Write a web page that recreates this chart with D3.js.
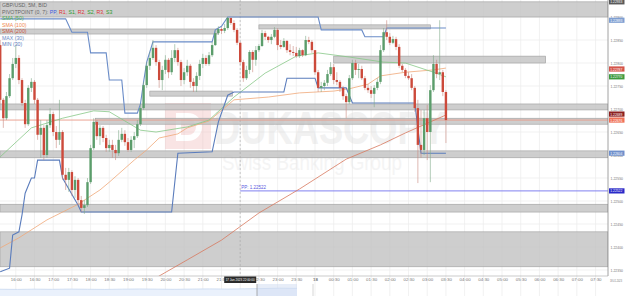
<!DOCTYPE html>
<html lang="en">
<head>
<meta charset="UTF-8">
<title>GBP/USD 5M</title>
<script src="https://cdn.jsdelivr.net/npm/d3@7"></script>
<style>
  body { margin: 0; background: #fff; }
  svg { display: block; font-family: 'Liberation Sans', Arial, sans-serif; }
</style>
</head>
<body>
<div class="chart"></div>
<script>
    // 5 minute bars, first bar 17 Jan 2023 15:35 (GMT)
    const open = [
        1.22839, 1.22720, 1.22680, 1.22728, 1.22767, 1.22798, 1.22811, 1.22763, 1.22713, 1.22667,
        1.22746, 1.22759, 1.22720, 1.22644, 1.22659, 1.22600, 1.22665, 1.22689, 1.22650, 1.22633,
        1.22650, 1.22557, 1.22546, 1.22563, 1.22524, 1.22546, 1.22502, 1.22485, 1.22491, 1.22541,
        1.22615, 1.22672, 1.22641, 1.22659, 1.22637, 1.22615, 1.22622, 1.22611, 1.22604, 1.22633,
        1.22646, 1.22628, 1.22611, 1.22633, 1.22641, 1.22667, 1.22702, 1.22752, 1.22794, 1.22811,
        1.22833, 1.22802, 1.22763, 1.22785, 1.22807, 1.22780, 1.22811, 1.22828, 1.22802, 1.22763,
        1.22780, 1.22794, 1.22759, 1.22750, 1.22772, 1.22798, 1.22811, 1.22798, 1.22817, 1.22839,
        1.22865, 1.22874, 1.22870, 1.22876, 1.22898, 1.22887, 1.22872, 1.22844, 1.22802, 1.22767,
        1.22785, 1.22824, 1.22807, 1.22828, 1.22837, 1.22865, 1.22857, 1.22850, 1.22857, 1.22872,
        1.22839, 1.22835, 1.22848, 1.22828, 1.22824, 1.22822, 1.22815, 1.22828, 1.22817, 1.22850,
        1.22846, 1.22828, 1.22780, 1.22746, 1.22750, 1.22757, 1.22776, 1.22791, 1.22763, 1.22759,
        1.22746, 1.22728, 1.22715, 1.22767, 1.22800, 1.22785, 1.22787, 1.22767, 1.22746, 1.22741,
        1.22733, 1.22746, 1.22759, 1.22828, 1.22867, 1.22857, 1.22844, 1.22852, 1.22835, 1.22794,
        1.22785, 1.22772, 1.22767, 1.22746, 1.22702, 1.22622, 1.22611, 1.22680, 1.22650, 1.22741,
        1.22798, 1.22776, 1.22780, 1.22737
    ]
    const high = [
        1.22850, 1.22724, 1.22737, 1.22776, 1.22811, 1.22839, 1.22817, 1.22767, 1.22720, 1.22752,
        1.22767, 1.22763, 1.22724, 1.22676, 1.22665, 1.22676, 1.22702, 1.22694, 1.22663, 1.22720,
        1.22654, 1.22572, 1.22572, 1.22567, 1.22554, 1.22550, 1.22511, 1.22502, 1.22550, 1.22622,
        1.22680, 1.22676, 1.22665, 1.22663, 1.22644, 1.22633, 1.22633, 1.22622, 1.22654, 1.22659,
        1.22654, 1.22637, 1.22641, 1.22650, 1.22676, 1.22711, 1.22759, 1.22802, 1.22824, 1.22850,
        1.22839, 1.22807, 1.22794, 1.22817, 1.22811, 1.22828, 1.22841, 1.22833, 1.22807, 1.22789,
        1.22807, 1.22798, 1.22767, 1.22780, 1.22807, 1.22820, 1.22817, 1.22824, 1.22846, 1.22872,
        1.22880, 1.22878, 1.22885, 1.22900, 1.22898, 1.22893, 1.22876, 1.22846, 1.22807, 1.22794,
        1.22828, 1.22828, 1.22837, 1.22841, 1.22872, 1.22870, 1.22859, 1.22863, 1.22878, 1.22876,
        1.22850, 1.22854, 1.22850, 1.22841, 1.22837, 1.22835, 1.22833, 1.22830, 1.22859, 1.22857,
        1.22850, 1.22828, 1.22785, 1.22759, 1.22763, 1.22785, 1.22802, 1.22798, 1.22780, 1.22763,
        1.22750, 1.22733, 1.22774, 1.22807, 1.22807, 1.22798, 1.22794, 1.22772, 1.22754, 1.22750,
        1.22752, 1.22767, 1.22839, 1.22876, 1.22893, 1.22865, 1.22859, 1.22857, 1.22841, 1.22798,
        1.22789, 1.22780, 1.22776, 1.22750, 1.22720, 1.22698, 1.22698, 1.22709, 1.22752, 1.22817,
        1.22807, 1.22893, 1.22785, 1.22741
    ]
    const low = [
        1.22711, 1.22659, 1.22676, 1.22724, 1.22763, 1.22789, 1.22754, 1.22707, 1.22659, 1.22663,
        1.22737, 1.22711, 1.22633, 1.22594, 1.22589, 1.22594, 1.22659, 1.22641, 1.22615, 1.22622,
        1.22546, 1.22524, 1.22520, 1.22511, 1.22507, 1.22491, 1.22476, 1.22472, 1.22487, 1.22537,
        1.22611, 1.22633, 1.22622, 1.22628, 1.22607, 1.22607, 1.22594, 1.22589, 1.22598, 1.22628,
        1.22620, 1.22607, 1.22607, 1.22615, 1.22637, 1.22663, 1.22698, 1.22746, 1.22785, 1.22807,
        1.22794, 1.22746, 1.22741, 1.22776, 1.22767, 1.22774, 1.22802, 1.22794, 1.22750, 1.22754,
        1.22772, 1.22746, 1.22737, 1.22737, 1.22763, 1.22789, 1.22794, 1.22794, 1.22813, 1.22837,
        1.22861, 1.22863, 1.22865, 1.22872, 1.22883, 1.22867, 1.22839, 1.22796, 1.22759, 1.22763,
        1.22776, 1.22780, 1.22794, 1.22824, 1.22835, 1.22850, 1.22844, 1.22841, 1.22854, 1.22828,
        1.22830, 1.22833, 1.22822, 1.22817, 1.22815, 1.22811, 1.22811, 1.22813, 1.22815, 1.22841,
        1.22822, 1.22774, 1.22737, 1.22737, 1.22741, 1.22750, 1.22772, 1.22754, 1.22752, 1.22737,
        1.22720, 1.22680, 1.22711, 1.22763, 1.22774, 1.22767, 1.22763, 1.22741, 1.22735, 1.22724,
        1.22704, 1.22741, 1.22754, 1.22824, 1.22850, 1.22839, 1.22841, 1.22828, 1.22789, 1.22780,
        1.22767, 1.22763, 1.22741, 1.22694, 1.22539, 1.22594, 1.22600, 1.22589, 1.22541, 1.22737,
        1.22767, 1.22763, 1.22728, 1.22626
    ]
    const close = [
        1.22720, 1.22680, 1.22728, 1.22767, 1.22798, 1.22811, 1.22763, 1.22713, 1.22667, 1.22746,
        1.22759, 1.22720, 1.22644, 1.22659, 1.22600, 1.22665, 1.22689, 1.22650, 1.22633, 1.22650,
        1.22557, 1.22546, 1.22563, 1.22524, 1.22546, 1.22502, 1.22485, 1.22491, 1.22541, 1.22615,
        1.22672, 1.22641, 1.22659, 1.22637, 1.22615, 1.22622, 1.22611, 1.22604, 1.22633, 1.22646,
        1.22628, 1.22611, 1.22633, 1.22641, 1.22667, 1.22702, 1.22752, 1.22794, 1.22811, 1.22833,
        1.22802, 1.22763, 1.22785, 1.22807, 1.22780, 1.22811, 1.22828, 1.22802, 1.22763, 1.22780,
        1.22794, 1.22759, 1.22750, 1.22772, 1.22798, 1.22811, 1.22798, 1.22817, 1.22839, 1.22865,
        1.22874, 1.22870, 1.22876, 1.22898, 1.22887, 1.22872, 1.22844, 1.22802, 1.22767, 1.22785,
        1.22824, 1.22807, 1.22828, 1.22837, 1.22865, 1.22857, 1.22850, 1.22857, 1.22872, 1.22839,
        1.22835, 1.22848, 1.22828, 1.22824, 1.22822, 1.22815, 1.22828, 1.22817, 1.22850, 1.22846,
        1.22828, 1.22780, 1.22746, 1.22750, 1.22757, 1.22776, 1.22791, 1.22763, 1.22759, 1.22746,
        1.22728, 1.22715, 1.22767, 1.22800, 1.22785, 1.22787, 1.22767, 1.22746, 1.22741, 1.22733,
        1.22746, 1.22759, 1.22828, 1.22867, 1.22857, 1.22844, 1.22852, 1.22835, 1.22794, 1.22785,
        1.22772, 1.22767, 1.22746, 1.22702, 1.22622, 1.22611, 1.22680, 1.22650, 1.22741, 1.22798,
        1.22776, 1.22780, 1.22737, 1.22676
    ]

    // indicator readings (bar number -> value)
    const sma50Bar = [0, 10, 20, 30, 35, 40, 45, 50, 60, 67, 75, 85, 95, 102, 112, 123, 130, 139, 143]
    const sma50 = [1.22596, 1.22659, 1.22680, 1.22696, 1.22694, 1.22674, 1.22654, 1.22650, 1.22661, 1.22676,
        1.22726, 1.22778, 1.22815, 1.22822, 1.22813, 1.22802, 1.22800, 1.22780, 1.22770]
    const sma100Bar = [0, 6, 15, 25, 32, 35, 43, 47, 51, 57, 60, 67, 75, 86, 96, 107, 112, 118, 122, 130, 139, 143]
    const sma100 = [1.22398, 1.22420, 1.22459, 1.22493, 1.22524, 1.22541, 1.22589, 1.22611, 1.22637, 1.22646, 1.22659,
        1.22674, 1.22720, 1.22726, 1.22735, 1.22739, 1.22744, 1.22754, 1.22772, 1.22780, 1.22785, 1.22789]
    const sma200Bar = [48, 51, 60, 71, 83, 96, 111, 122, 130, 143]
    const sma200 = [1.22324, 1.22337, 1.22372, 1.22415, 1.22474, 1.22526, 1.22591, 1.22622, 1.22648, 1.22687]
    const maxBar = [0, 21, 23, 28, 29, 34, 35, 39, 40, 44, 45, 46, 47, 48, 49, 68, 69, 71, 73, 102, 103, 116, 117, 123, 124, 143]
    const max30 = [1.22896, 1.22896, 1.22867, 1.22867, 1.22822, 1.22822, 1.22763, 1.22763, 1.22691, 1.22691,
        1.22711, 1.22759, 1.22802, 1.22824, 1.22846, 1.22846, 1.22872, 1.22880, 1.22900, 1.22900,
        1.22872, 1.22872, 1.22857, 1.22857, 1.22876, 1.22876]
    const minBar = [0, 3, 4, 6, 7, 8, 10, 11, 12, 19, 20, 25, 26, 55, 57, 68, 70, 73, 75, 91, 92, 101, 102, 111, 113, 133, 135, 143]
    const min30 = [1.22346, 1.22354, 1.22426, 1.22433, 1.22470, 1.22517, 1.22550, 1.22550, 1.22589, 1.22589,
        1.22550, 1.22491, 1.22476, 1.22476, 1.22604, 1.22607, 1.22672, 1.22730, 1.22737, 1.22737,
        1.22767, 1.22767, 1.22746, 1.22746, 1.22713, 1.22713, 1.22604, 1.22604]

    // support / resistance zones (null = chart edge)
    const zoneHigh = [1.22933, 1.22874, 1.22883, 1.22815, 1.22711, 1.22680, 1.22609, 1.22739, 1.22493, 1.22433]
    const zoneLow = [1.22900, 1.22863, 1.22874, 1.22800, 1.22698, 1.22667, 1.22594, 1.22728, 1.22476, 1.22357]
    const zoneFrom = [null, null, 83, 107, null, 30.5, null, 48, null, null]
    const zoneTo = [null, 70, 138, 175, null, null, null, 74.5, null, null]

    const pivotPP = 1.22522
    const pivotFromBar = 77

    const priceTicks = [1.22900, 1.22850, 1.22800, 1.22750, 1.22700, 1.22650, 1.22600, 1.22550, 1.22500, 1.22450, 1.22400, 1.22350]
    const tagValues = [1.22933, 1.22893, 1.22787, 1.22770, 1.22689, 1.22676, 1.22604, 1.22522]
    const tagColors = ['#5a5a5a', '#7f9fd2', '#d4544a', '#3f9a3f', '#8c2020', '#ef7158', '#7090cc', '#2a2ac8']

    const navValues = [1.2228, 1.2226, 1.2229, 1.2227, 1.2230, 1.2228, 1.2226, 1.2229, 1.2231, 1.2229,
        1.2227, 1.2230, 1.2232, 1.2230, 1.2233, 1.2236, 1.2240, 1.2238]

    const width = 625
    const height = 296
    const plotW = 608
    const plotH = 276

    const startTime = Date.UTC(2023, 0, 17, 15, 35)
    const barMs = 5 * 60 * 1000
    const barTime = i => new Date(startTime + i * barMs)

    const xScale = d3.scaleUtc()
        .domain([new Date(Date.UTC(2023, 0, 17, 15, 34, 40)), new Date(Date.UTC(2023, 0, 18, 7, 50))])
        .range([0, plotW])
    const yScale = d3.scaleLinear().domain([1.22337, 1.22937]).range([plotH, 0])

    const svg = d3.select('.chart').append('svg')
        .attr('width', width)
        .attr('height', height)

    svg.append('defs').append('clipPath').attr('id', 'plot-clip')
        .append('rect').attr('width', plotW).attr('height', plotH)

    const timeTicks = d3.utcMinute.every(30).range(new Date(Date.UTC(2023, 0, 17, 16)), new Date(Date.UTC(2023, 0, 18, 8)))
    const cursorTime = new Date(Date.UTC(2023, 0, 17, 22, 0))

    // grid
    const grid = svg.append('g')
    grid.selectAll('.vgrid').data(timeTicks).enter().append('line')
        .attr('x1', d => xScale(d)).attr('x2', d => xScale(d))
        .attr('y1', 0).attr('y2', height)
        .attr('stroke', '#ededed').attr('stroke-width', 0.8)
    grid.selectAll('.hgrid').data(priceTicks).enter().append('line')
        .attr('x1', 0).attr('x2', plotW)
        .attr('y1', d => yScale(d)).attr('y2', d => yScale(d))
        .attr('stroke', '#ededed').attr('stroke-width', 0.8)

    // watermark
    const wm = svg.append('g').attr('opacity', 0.35)
    wm.append('rect').attr('x', 165).attr('y', 103).attr('width', 46).attr('height', 46).attr('fill', '#f0b4b4')
    wm.append('path').attr('d', 'M176 113 h12 a14 14 0 0 1 0 28 h-12 z M181 119 v16 h7 a8 8 0 0 0 0 -16 z')
        .attr('fill', '#fff').attr('fill-rule', 'evenodd')
    wm.append('text').attr('x', 214).attr('y', 144)
        .attr('font-size', 47).attr('font-weight', 900).attr('fill', '#d8d8d8')
        .attr('textLength', 232).attr('lengthAdjust', 'spacingAndGlyphs')
        .text('DUKASCOPY')
    wm.append('text').attr('x', 222).attr('y', 170)
        .attr('font-size', 22).attr('fill', '#e2e2e2')
        .attr('textLength', 180).attr('lengthAdjust', 'spacingAndGlyphs')
        .text('Swiss Banking Group')

    const plot = svg.append('g').attr('clip-path', 'url(#plot-clip)')

    // zones
    plot.selectAll('.zone').data(zoneHigh).enter().append('rect')
        .attr('x', (d, i) => zoneFrom[i] === null ? 0 : xScale(barTime(zoneFrom[i])))
        .attr('width', (d, i) => {
            const x0 = zoneFrom[i] === null ? 0 : xScale(barTime(zoneFrom[i]))
            const x1 = zoneTo[i] === null ? plotW : xScale(barTime(zoneTo[i]))
            return x1 - x0
        })
        .attr('y', d => yScale(d))
        .attr('height', (d, i) => yScale(zoneLow[i]) - yScale(d))
        .attr('fill', '#c2c2c2').attr('fill-opacity', 0.8)
        .attr('stroke', '#9e9e9e').attr('stroke-width', 0.6)

    // cursor line
    plot.append('line')
        .attr('x1', xScale(cursorTime)).attr('x2', xScale(cursorTime))
        .attr('y1', 0).attr('y2', plotH)
        .attr('stroke', '#aaa').attr('stroke-width', 0.6).attr('stroke-dasharray', '2,2')

    // pivot point
    plot.append('line')
        .attr('x1', xScale(barTime(pivotFromBar))).attr('x2', plotW)
        .attr('y1', yScale(pivotPP)).attr('y2', yScale(pivotPP))
        .attr('stroke', '#8080f0').attr('stroke-width', 1)
    plot.append('text')
        .attr('x', xScale(barTime(pivotFromBar)) + 1).attr('y', yScale(pivotPP) - 1.5)
        .attr('font-size', 4.5).attr('fill', '#5a5ae0')
        .text('PP: ' + d3.format('.5f')(pivotPP))

    // last price line
    const lastClose = close[close.length - 1]
    plot.append('line')
        .attr('x1', 0).attr('x2', plotW)
        .attr('y1', yScale(lastClose)).attr('y2', yScale(lastClose))
        .attr('stroke', '#e99a88').attr('stroke-width', 0.9)

    // indicator lines
    function drawLine(bars, values, color, w) {
        const line = d3.line()
            .x((d, i) => xScale(barTime(bars[i])))
            .y(d => yScale(d))
        plot.append('path')
            .attr('d', line(values))
            .attr('fill', 'none')
            .attr('stroke', color)
            .attr('stroke-width', w)
    }
    drawLine(sma200Bar, sma200, '#d8785e', 0.8)
    drawLine(sma100Bar, sma100, '#f0a878', 0.8)
    drawLine(sma50Bar, sma50, '#88c888', 0.8)
    drawLine(maxBar, max30, '#6a8cc8', 1.1)
    drawLine(minBar, min30, '#5a7cbc', 1.1)

    // candles
    const candles = plot.selectAll('.candle').data(close).enter().append('g')
    candles.append('line')
        .attr('x1', (d, i) => xScale(barTime(i))).attr('x2', (d, i) => xScale(barTime(i)))
        .attr('y1', (d, i) => yScale(high[i])).attr('y2', (d, i) => yScale(low[i]))
        .attr('stroke', (d, i) => d >= open[i] ? '#7fa98a' : '#c98a80')
        .attr('stroke-width', 0.6)
    candles.append('rect')
        .attr('x', (d, i) => xScale(barTime(i)) - 1.2)
        .attr('width', 2.4)
        .attr('y', (d, i) => yScale(Math.max(d, open[i])))
        .attr('height', (d, i) => Math.max(0.6, Math.abs(yScale(d) - yScale(open[i]))))
        .attr('fill', (d, i) => d >= open[i] ? '#5b9d6b' : '#cc4a3b')

    // axes frame
    svg.append('line').attr('x1', plotW).attr('x2', plotW).attr('y1', 0).attr('y2', plotH)
        .attr('stroke', '#8c8c8c').attr('stroke-width', 0.8)
    svg.append('line').attr('x1', 0).attr('x2', plotW).attr('y1', plotH).attr('y2', plotH)
        .attr('stroke', '#aaa').attr('stroke-width', 0.6)

    // price labels
    svg.selectAll('.ylab').data(priceTicks).enter().append('text')
        .attr('x', 610.5).attr('y', d => yScale(d) + 1.6)
        .attr('font-size', 4.2).attr('fill', '#777')
        .attr('textLength', 12.5).attr('lengthAdjust', 'spacingAndGlyphs')
        .text(d => d3.format('.5f')(d))

    // value tags
    const tags = svg.selectAll('.tag').data(tagValues).enter().append('g')
        .attr('transform', d => `translate(609, ${yScale(d)})`)
    tags.append('rect').attr('x', 0).attr('y', -2.6).attr('width', 15.5).attr('height', 5.2)
        .attr('fill', (d, i) => tagColors[i])
    tags.append('text').attr('x', 1.3).attr('y', 1.5)
        .attr('font-size', 3.9).attr('fill', '#fff')
        .attr('textLength', 12).attr('lengthAdjust', 'spacingAndGlyphs')
        .text(d => d3.format('.5f')(d))

    // time axis (labels under the cursor tooltip are hidden, as in the terminal)
    const xAxis = d3.axisBottom(xScale)
        .tickValues(timeTicks.filter(d => Math.abs(xScale(d) - xScale(cursorTime)) > 12))
        .tickSize(0)
        .tickPadding(2)
        .tickFormat(d => d.getUTCHours() === 0 && d.getUTCMinutes() === 0 ? d3.utcFormat('%d')(d) : d3.utcFormat('%H:%M')(d))
    const gX = svg.append('g').attr('transform', `translate(0, ${plotH})`).call(xAxis)
    gX.select('.domain').remove()
    gX.selectAll('text').attr('font-size', 4.4).attr('fill', '#777')
        .attr('font-weight', d => d.getUTCHours() === 0 && d.getUTCMinutes() === 0 ? 'bold' : null)
    svg.append('text').attr('x', 610).attr('y', 281.5)
        .attr('font-size', 4).attr('fill', '#777')
        .attr('textLength', 12).attr('lengthAdjust', 'spacingAndGlyphs')
        .text('18.01.2023')

    // navigator
    const navX = d3.scaleLinear().domain([0, navValues.length - 1]).range([0, 297])
    const navY = d3.scaleLinear().domain([1.2150, 1.2300]).range([296, 283])
    const navArea = d3.area().x((d, i) => navX(i)).y0(296).y1(d => navY(d)).curve(d3.curveMonotoneX)
    svg.append('path').attr('d', navArea(navValues)).attr('fill', '#eaf1fc')
    svg.append('path').attr('d', navArea.lineY1()(navValues)).attr('fill', 'none')
        .attr('stroke', '#c8d8f0').attr('stroke-width', 0.8)
    svg.append('rect').attr('x', 257).attr('y', 284).attr('width', 40).attr('height', 12)
        .attr('fill', '#cfdcf2').attr('fill-opacity', 0.5)
    svg.append('line').attr('x1', 257).attr('x2', 257).attr('y1', 284).attr('y2', 296)
        .attr('stroke', '#999').attr('stroke-width', 0.8)
    svg.append('line').attr('x1', 313).attr('x2', 313).attr('y1', 284).attr('y2', 296)
        .attr('stroke', '#ccc').attr('stroke-width', 0.8)

    // cursor tooltip
    svg.append('rect').attr('x', xScale(cursorTime) - 16).attr('y', 276.5).attr('width', 32).attr('height', 6.5)
        .attr('fill', '#2b2b2b')
    svg.append('text').attr('x', xScale(cursorTime)).attr('y', 281.2).attr('text-anchor', 'middle')
        .attr('font-size', 4).attr('fill', '#fff')
        .attr('textLength', 29).attr('lengthAdjust', 'spacingAndGlyphs')
        .text('17 Jan 2023 22:00:00')

    // legend
    const legend = svg.append('g').attr('font-size', 5.2)
    legend.append('text').attr('x', 2).attr('y', 7).attr('fill', '#666').text('GBP/USD, 5M, BID')
    const pivotText = legend.append('text').attr('x', 2).attr('y', 13.5).attr('fill', '#666')
    pivotText.append('tspan').text('PIVOTPOINT (0, 7): ')
    const pivotParts = [['PP, ', '#3a5ae0'], ['R1, ', '#d33'], ['S1, ', '#2a9a2a'], ['R2, ', '#d33'], ['S2, ', '#2a9a2a'], ['R3, ', '#d33'], ['S3', '#2a9a2a']]
    pivotParts.forEach(p => pivotText.append('tspan').attr('fill', p[1]).text(p[0]))
    const legendRows = [['SMA (50)', '#4caa4c'], ['SMA (100)', '#f08a50'], ['SMA (200)', '#c8553d'], ['MAX (30)', '#6a8cc8'], ['MIN (30)', '#5a7cbc']]
    legend.selectAll('.lrow').data(legendRows).enter().append('text')
        .attr('x', 2).attr('y', (d, i) => 20 + i * 6.6)
        .attr('fill', d => d[1])
        .text(d => d[0])
</script>
</body>
</html>
